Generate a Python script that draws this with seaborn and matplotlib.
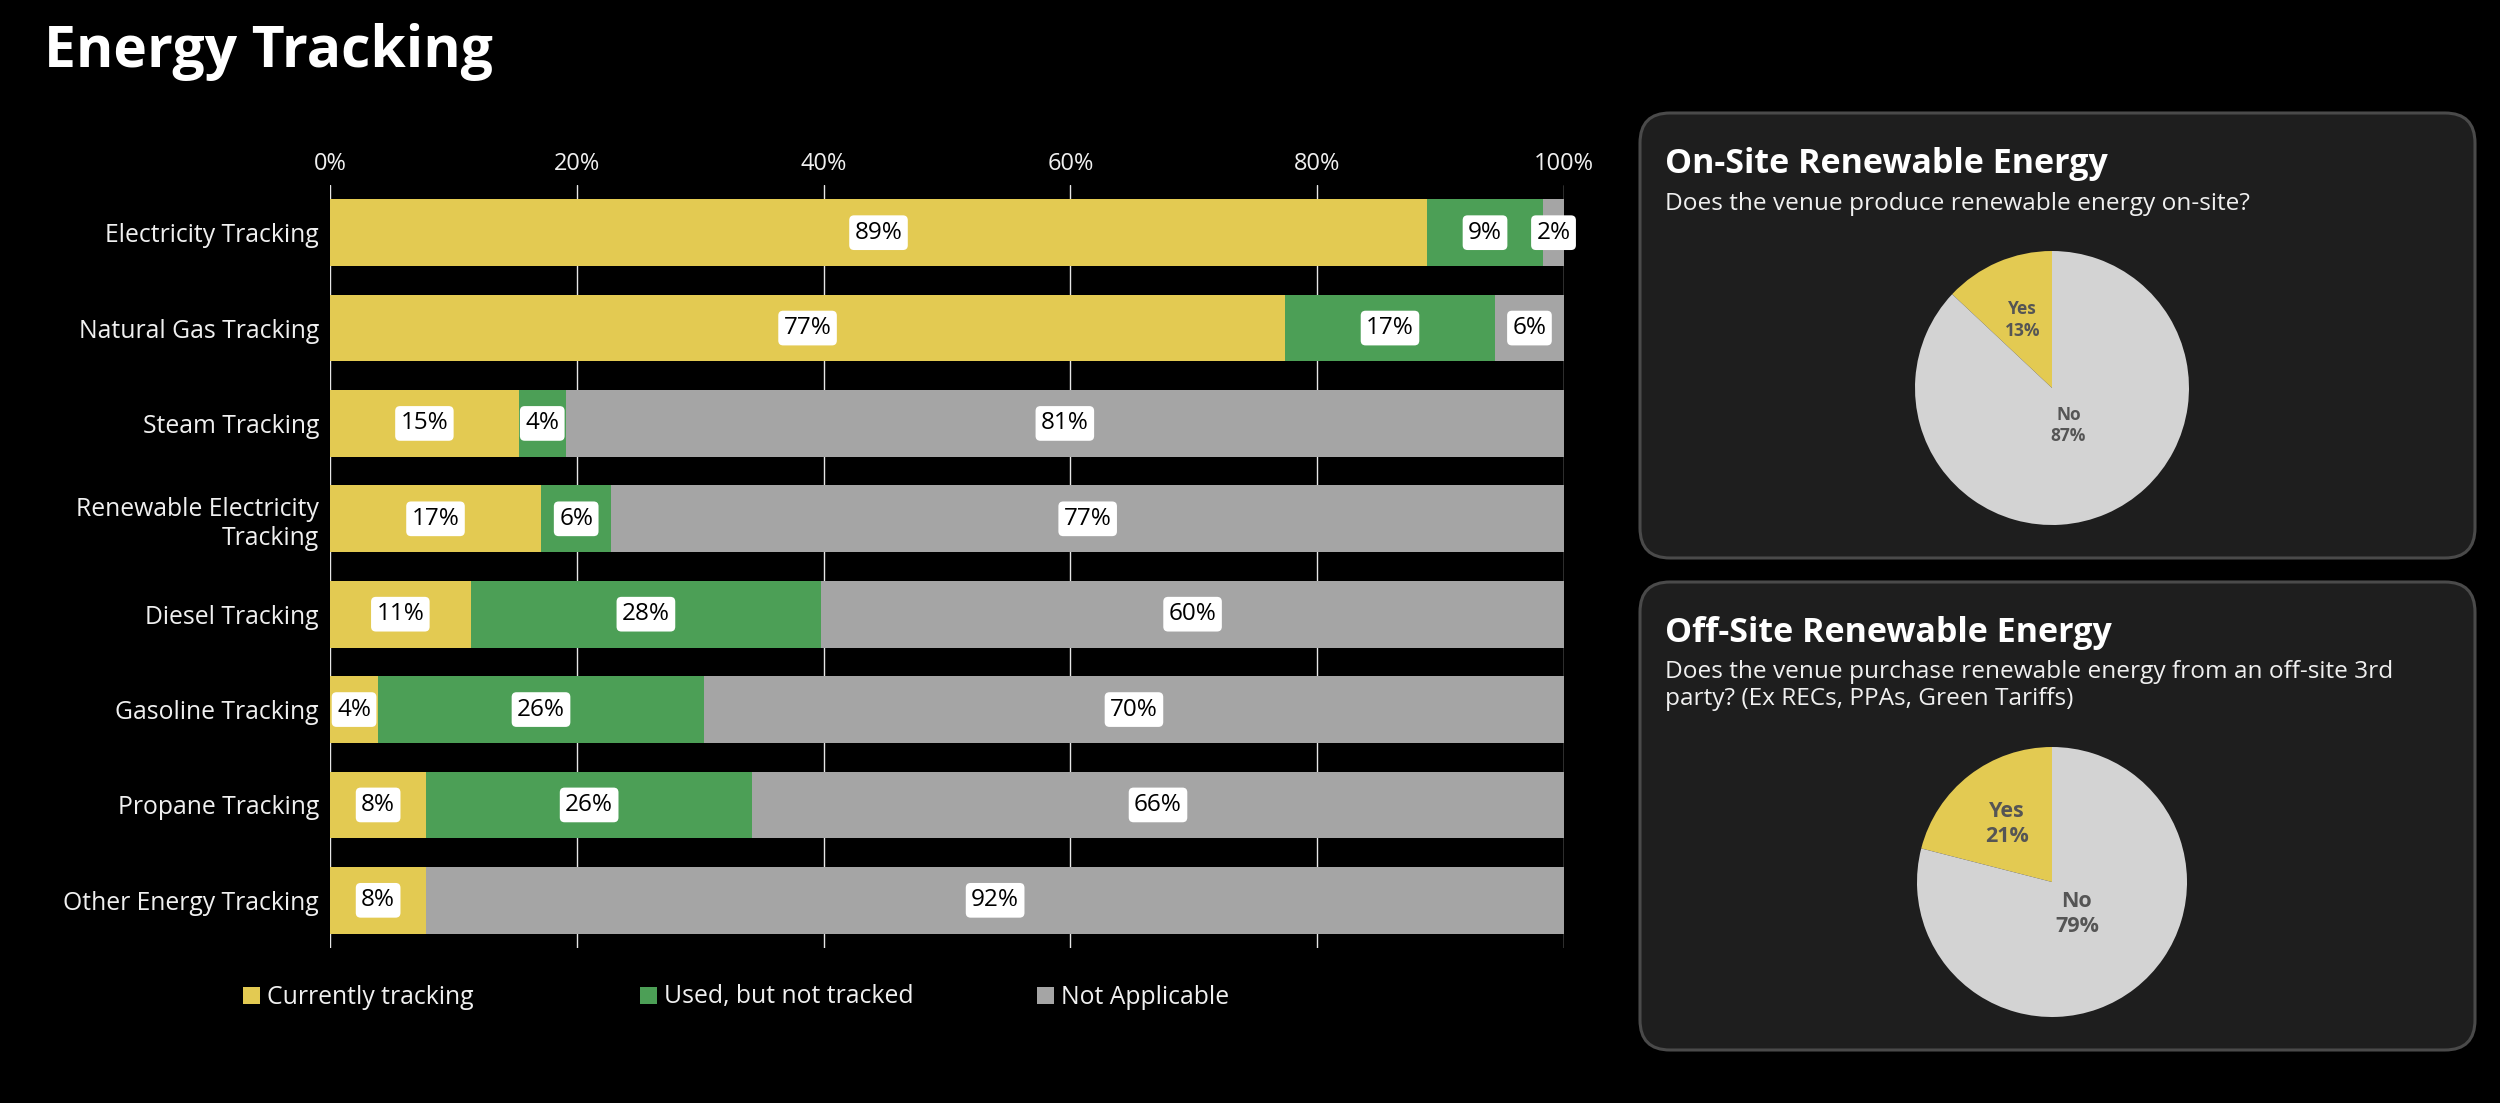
import matplotlib
matplotlib.use("Agg")
import matplotlib.pyplot as plt
import seaborn as sns
import pandas as pd
import numpy as np
from matplotlib.patches import FancyBboxPatch, Rectangle

# ---------------- data ----------------
categories = ["Electricity Tracking", "Natural Gas Tracking", "Steam Tracking",
              "Renewable Electricity\nTracking", "Diesel Tracking", "Gasoline Tracking",
              "Propane Tracking", "Other Energy Tracking"]
currently_tracking = [88.9, 77.4, 15.3, 17.1, 11.4, 3.9, 7.8, 7.8]
used_not_tracked = [9.4, 17.0, 3.8, 5.7, 28.4, 26.4, 26.4, 0.0]
not_applicable = [1.7, 5.6, 80.9, 77.2, 60.2, 69.7, 65.8, 92.2]
series_names = ["Currently tracking", "Used, but not tracked", "Not Applicable"]
series_colors = ["#E3CA52", "#4C9F56", "#A5A5A5"]
tick_values = [0, 20, 40, 60, 80, 100]
tick_labels = ["0%", "20%", "40%", "60%", "80%", "100%"]

pie_labels = ["Yes", "No"]
pie_colors = ["#E3CA52", "#D3D3D3"]
onsite_values = [13, 87]
offsite_values = [21, 79]
onsite_title = "On-Site Renewable Energy"
onsite_subtitle = "Does the venue produce renewable energy on-site?"
offsite_title = "Off-Site Renewable Energy"
offsite_subtitle = ("Does the venue purchase renewable energy from an off-site 3rd\n"
                    "party? (Ex RECs, PPAs, Green Tariffs)")
main_title = "Energy Tracking"

# ---------------- style ----------------
sns.set_theme(style="dark")
plt.rcParams["font.family"] = ["Open Sans", "DejaVu Sans"]
plt.rcParams["axes.facecolor"] = "black"
plt.rcParams["figure.facecolor"] = "black"

W, H, DPI = 2500, 1103, 100
fig = plt.figure(figsize=(W / DPI, H / DPI), dpi=DPI)
fig.patch.set_facecolor("black")


def fx(px):
    return px / W


def fy(px):
    return 1 - px / H


# ---------------- stacked bar chart ----------------
df = pd.DataFrame({
    "category": categories,
    "c1": currently_tracking,
    "c2": np.array(currently_tracking) + np.array(used_not_tracked),
    "c3": np.array(currently_tracking) + np.array(used_not_tracked) + np.array(not_applicable),
})

ax = fig.add_axes([fx(330), fy(948), fx(1564) - fx(330), fy(185) - fy(948)])
ax.set_facecolor("black")
for col, color in zip(["c3", "c2", "c1"], series_colors[::-1]):
    sns.barplot(data=df, y="category", x=col, color=color, orient="h", ax=ax,
                width=0.7, saturation=1, errorbar=None, edgecolor="none", linewidth=0)

ax.set_xlim(0, 100)
ax.set_xticks(tick_values)
ax.set_xticklabels(tick_labels)
ax.xaxis.tick_top()
ax.set_xlabel("")
ax.set_ylabel("")
ax.grid(axis="x", color="#e6e6e6", linewidth=1.0)
ax.grid(axis="y", visible=False)
ax.set_axisbelow(True)
for s in ax.spines.values():
    s.set_visible(False)
ax.tick_params(axis="x", colors="#f0f0f0", labelsize=17, length=0, pad=6.5)
ax.tick_params(axis="y", colors="#f0f0f0", labelsize=17.8, length=0, pad=8)
for lbl in ax.get_xticklabels() + ax.get_yticklabels():
    lbl.set_color("#f0f0f0")

series_vals = [currently_tracking, used_not_tracked, not_applicable]
for i in range(len(categories)):
    left = 0.0
    for vals in series_vals:
        v = vals[i]
        if v > 0:
            ax.text(left + v / 2, i, f"{round(v):d}%", ha="center", va="center",
                    fontsize=17.5, color="black",
                    bbox=dict(boxstyle="round,pad=0.22,rounding_size=0.2",
                              fc="white", ec="none"))
        left += v

# legend (manual, fixed-width columns)
for k, (name, color) in enumerate(zip(series_names, series_colors)):
    x0 = 243 + k * 397
    fig.patches.append(Rectangle((fx(x0), fy(1004)), fx(17), fy(987) - fy(1004),
                                 transform=fig.transFigure, fc=color, ec="none"))
    fig.text(fx(x0 + 24), fy(997), name, ha="left", va="center",
             fontsize=17.8, color="#f0f0f0")

# title
fig.text(fx(44), fy(67), main_title, ha="left", va="baseline",
         fontsize=41, fontweight="bold", color="white")


# ---------------- pie panels ----------------
def panel(top, bottom, title, subtitle, title_base, sub_base, values,
          cy, r, fsize):
    x0, x1 = 1640, 2475
    fig.patches.append(FancyBboxPatch(
        (x0 / DPI, (H - bottom) / DPI), (x1 - x0) / DPI, (bottom - top) / DPI,
        boxstyle="round,pad=0,rounding_size=0.3", transform=fig.dpi_scale_trans,
        fc="#1e1e1e", ec="#4a4a4a", lw=2.2, zorder=-5))
    fig.text(fx(1665), fy(title_base), title, ha="left", va="baseline",
             fontsize=24.5, fontweight="bold", color="white")
    for j, line in enumerate(subtitle.split("\n")):
        fig.text(fx(1665), fy(sub_base + 27 * j), line, ha="left", va="baseline",
                 fontsize=17.6, color="#f0f0f0")
    cx = 2052
    pax = fig.add_axes([fx(cx - r), fy(cy + r), fx(2 * r), fy(cy - r) - fy(cy + r)])
    pax.set_zorder(5)
    pax.patch.set_alpha(0)
    wedges, _ = pax.pie(values, colors=pie_colors, startangle=90, counterclock=True,
                        wedgeprops=dict(linewidth=0))
    pax.set_xlim(-1, 1)
    pax.set_ylim(-1, 1)
    pax.set_aspect("equal")
    pax.axis("off")
    dists = [0.54, 0.30]
    for w, lab, v, d in zip(wedges, pie_labels, values, dists):
        ang = np.deg2rad((w.theta1 + w.theta2) / 2)
        pax.text(d * np.cos(ang), d * np.sin(ang), f"{lab}\n{v}%", ha="center",
                 va="center", fontsize=fsize, fontweight="bold", color="#555555",
                 linespacing=1.25)


panel(113, 558, onsite_title, onsite_subtitle, 173, 210, onsite_values, 388, 137, 12.5)
panel(582, 1050, offsite_title, offsite_subtitle, 642, 678, offsite_values, 882, 135, 15.5)

fig.savefig("out.png", dpi=DPI, facecolor="black")
